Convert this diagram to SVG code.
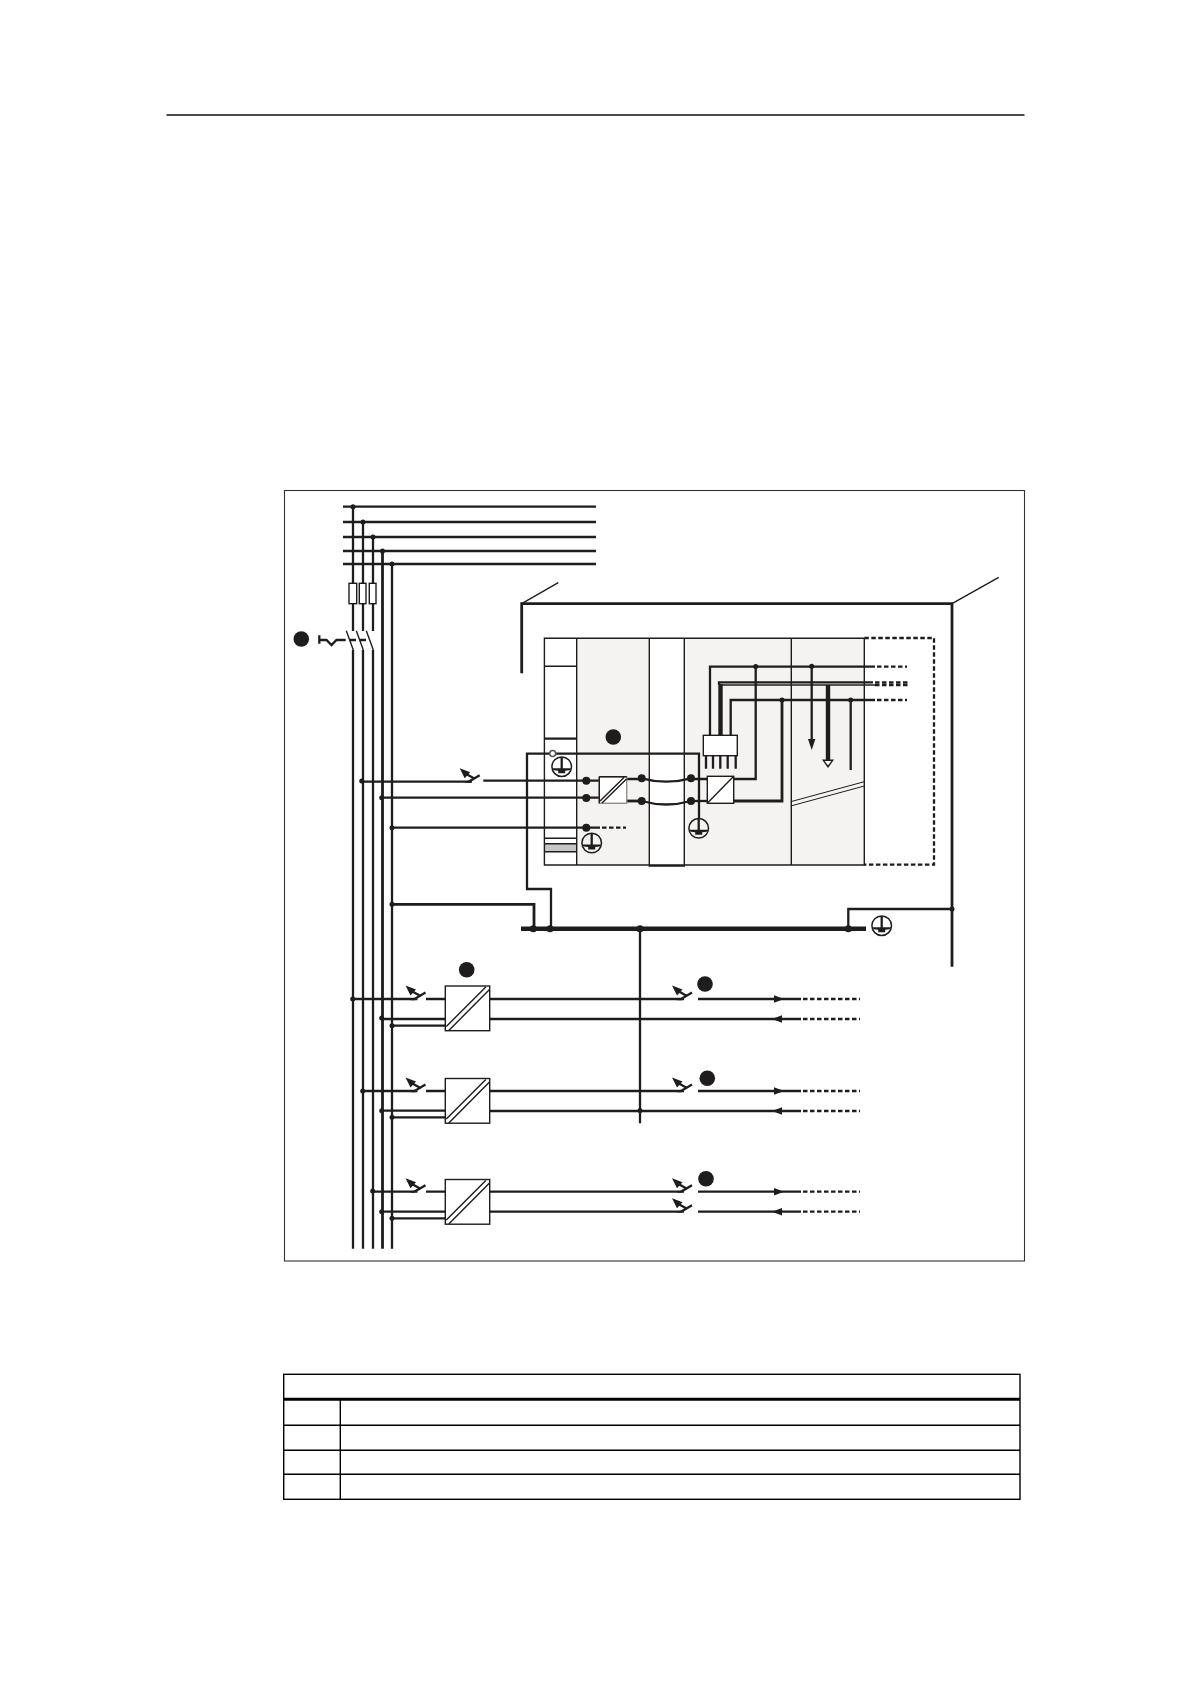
<svg xmlns="http://www.w3.org/2000/svg" width="1190" height="1684" viewBox="0 0 1190 1684">
<defs>
<style>
.l{fill:none;stroke:#1f1c1d;stroke-width:2.3}
.t{fill:none;stroke:#1f1c1d;stroke-width:1.4}
.w{fill:none;stroke:#1f1c1d;stroke-width:2.8}
.h{fill:none;stroke:#1f1c1d;stroke-width:4.4}
.d{fill:none;stroke:#1f1c1d;stroke-width:2.300;stroke-dasharray:4.500 2.500}
.j{fill:#1f1c1d}
.box{fill:#fff;stroke:#1f1c1d;stroke-width:1.4}
.ah{fill:#1f1c1d;stroke:none}
.mod{fill:#f4f3f2;stroke:none}
</style>
<g id="earth"><circle r="9.8" fill="none" stroke="#1f1c1d" stroke-width="1.5"/><path d="M0,-9.500V4" stroke="#1f1c1d" stroke-width="2.300"/><path d="M-9.500,1.500H9.500L8,3.500L3.500,4V6.500H-3.500V4L-8,3.500Z" fill="#1f1c1d"/></g>
<g id="sw"><path class="l" d="M0,0H-3L8,-6.5"/><path class="l" d="M3,-3L-6,-8"/><path class="ah" d="M-12,-13.500L-1.500,-9.500L-7,-3.500Z"/></g>
<g id="conv"><rect class="box" width="44.4" height="44.7"/><path class="t" d="M1,40.5L40.5,1M3.5,44.5L44.2,3.5"/></g>
<g id="arrR"><path class="ah" d="M0,-3.800L10,0L0,3.800Z"/></g>
<g id="arrL"><path class="ah" d="M0,-3.800L-10,0L0,3.800Z"/></g>
</defs>
<rect width="1190" height="1684" fill="#fff"/>
<path d="M166.500,115H1024.500" stroke="#111" stroke-width="1.300" fill="none"/>
<rect x="284.500" y="490.500" width="740" height="770.500" fill="none" stroke="#333" stroke-width="1.100"/>

<g id="rack">
<rect class="mod" x="576.700" y="638.300" width="72.600" height="226.700"/>
<rect class="mod" x="684.300" y="638.300" width="180" height="226.700"/>
<rect x="544.500" y="843.700" width="32" height="8" fill="#c6c6c6"/>
<path class="t" d="M864.300,638.300H544.400V865H864.300V638.300M576.700,638.300V865M649.300,638.300V866H684.300V638.300M791.300,638.300V865M544.400,666.300H576.700M544.400,838.300H576.700M544.400,843.700H576.700M544.400,851.700H576.700"/>
<path class="l" d="M544.400,738.700H576.700"/>
<path class="d" stroke-width="2.500" d="M864.300,638H934V864.700H864.300"/>
<path d="M790.700,801.700L864.300,781.700M790.700,806L864.300,786" fill="none" stroke="#1f1c1d" stroke-width="1"/>
</g>

<g id="connectors">
<path class="l" d="M343,506.700H596M343,522H596M343,537H596M343,551H596M343,564H596"/>
<path class="l" d="M353,506.700V631M363,522V631M373,537V631M353,650V1248.700M363,650V1248.700M373,650V1248.700M392,564V1248.700"/>
<path class="w" stroke-width="3.200" d="M382.500,551V1248.700"/>
<path class="t" stroke-width="1.500" d="M346.300,630.700L353.300,650M356.300,630.700L363.300,650M366.300,630.700L373.300,650"/>
<path class="l" d="M319.300,635.300V643.700M319.300,640H326.500L331.500,645L336.500,640H345.700M350,640H356M360,640H366"/>
<path class="w" d="M521.700,673.300V603.700H952V966.700"/>
<path class="t" d="M521.700,603.700L558.300,582.700M952,603.700L998.700,577.300"/>
<path class="l" d="M551,928.700V889H527V753.700H699V818"/>
<path class="l" d="M361.700,781.700H471.700M483.300,780.700H599.300"/>
<path class="l" d="M380.500,797.700H599.300"/>
<path class="l" d="M392,827.700H600"/>
<path class="d" d="M602,827.700H626"/>
<path class="l" d="M626.700,779H641.700M691,779H707.300"/>
<path class="w" d="M626.700,801H641.700"/>
<path class="l" d="M691,801H707.300"/>
<path class="l" d="M641.700,778.300Q666,785 691,778.300M641.700,801Q666,808 691,801"/>
<path class="l" d="M733.700,779H755.700V666.700"/>
<path class="w" stroke-width="3.200" d="M733.700,801H782V700"/>
<path class="l" d="M710,735V666.700H875M730.700,735V700H875M719,684.700V682.300H873"/>
<path class="h" d="M720.500,684V735"/>
<path class="t" stroke-width="1.500" d="M719,685H875"/>
<path class="d" d="M877,666.700H907M877,700H907M875,682.300H908M875,685H908"/>
<path class="l" d="M706,755.500V768.700M713,755.500V768.700M720.300,755.500V768.700M727.700,755.500V768.700M735.700,755.500V768.700"/>
<path class="l" d="M811.700,666.700V745"/>
<path class="h" d="M828,685V760"/>
<path class="ah" d="M808,739H815.400L811.700,750Z"/>
<path d="M823.300,760.300H832.700L828,766.700Z" fill="#fff" stroke="#1f1c1d" stroke-width="1.400"/>
<path class="l" d="M850.700,700V770"/>
<path class="h" d="M521,928.700H866"/>
<path class="w" d="M392,904.300H534V928.700"/>
<path class="l" d="M640,928.700V1123.300M848.300,928.700V909H952"/>

<path class="l" d="M352.700,999H415M426,999H445.300M489.700,999H681.700M698,999H801M381.700,1019H445.300M489.700,1019H801M392,1025.700H445.300"/>
<path class="l" d="M362.700,1091H415M426,1091H445.300M489.700,1091H681.700M698,1091H801M381.700,1110.700H445.300M489.700,1111H801M392,1117.300H445.300"/>
<path class="l" d="M372.700,1191.700H415M426,1191.700H445.300M489.700,1191.700H681.700M698,1191.700H801M381.700,1211.700H445.300M489.700,1211.700H681.700M698,1211.700H801M392,1218.300H445.300"/>
<path class="d" d="M803,999H860M803,1019H860M803,1091H860M803,1111H860M803,1191.700H860M803,1211.700H860"/>
<use href="#arrR" x="774" y="999"/><use href="#arrL" x="782" y="1019"/>
<use href="#arrR" x="774" y="1091"/><use href="#arrL" x="782" y="1111"/>
<use href="#arrR" x="774" y="1191.700"/><use href="#arrL" x="782" y="1211.700"/>
<use href="#sw" x="471.700" y="781.700"/>
<use href="#sw" x="417.500" y="999"/><use href="#sw" x="417.500" y="1091"/><use href="#sw" x="417.500" y="1191.700"/>
<use href="#sw" x="684" y="999"/><use href="#sw" x="684" y="1091"/><use href="#sw" x="684" y="1191.700"/><use href="#sw" x="684" y="1211.700"/>
<g class="j">
<circle cx="353" cy="506.700" r="2.500"/><circle cx="363" cy="522" r="2.500"/><circle cx="373" cy="537" r="2.500"/><circle cx="382.500" cy="551" r="2.500"/><circle cx="392" cy="564" r="2.500"/>
<circle cx="361.700" cy="781" r="2.500"/><circle cx="381.700" cy="797.700" r="2.500"/><circle cx="392" cy="827.700" r="2.500"/><circle cx="392" cy="904.300" r="2.500"/>
<circle cx="586.300" cy="780.700" r="4"/><circle cx="586.300" cy="798" r="4"/><circle cx="586.300" cy="827.700" r="4"/>
<circle cx="641.700" cy="778.300" r="4"/><circle cx="641.700" cy="801" r="4"/><circle cx="691" cy="778.300" r="4"/><circle cx="691" cy="801" r="4"/>
<circle cx="755.700" cy="666.500" r="2.500"/><circle cx="811.700" cy="666.300" r="2.500"/><circle cx="782" cy="700" r="2.500"/><circle cx="850.700" cy="700" r="2.500"/>
<circle cx="533.300" cy="928.700" r="3.500"/><circle cx="550" cy="928.700" r="3.500"/><circle cx="640" cy="928.700" r="3.500"/><circle cx="848.300" cy="928.700" r="3.500"/><circle cx="952" cy="909" r="2.500"/>
<circle cx="352.700" cy="999" r="2.500"/><circle cx="381.700" cy="1018" r="2.500"/><circle cx="392" cy="1025.700" r="2.500"/>
<circle cx="362.700" cy="1091" r="2.500"/><circle cx="381.700" cy="1110.700" r="2.500"/><circle cx="392" cy="1117.300" r="2.500"/>
<circle cx="372.700" cy="1191" r="2.500"/><circle cx="381.700" cy="1211.700" r="2.500"/><circle cx="392" cy="1218.300" r="2.500"/>
<circle cx="640" cy="1110.500" r="2.500"/>
</g>
</g>

<g id="fuses">
<rect class="box" x="349" y="583.300" width="7.700" height="20.400"/>
<rect class="box" x="359.300" y="583.300" width="6.700" height="20.400"/>
<rect class="box" x="369.300" y="583.300" width="6.700" height="20.400"/>
</g>
<g id="converter-rack-1"><rect x="599.300" y="776.700" width="27.400" height="26.600" fill="#fff" stroke="#8f8f8f" stroke-width="1.400"/><path class="t" d="M599.300,776.700H626.700M599.300,776.700V803.300M600,801L624,777.500M602,803L626.500,779"/></g>
<g id="converter-rack-2"><rect class="box" x="707.300" y="776.300" width="26.400" height="27"/><path class="t" d="M707.300,803.300L733.700,776.300"/></g>
<g id="connector-block"><rect class="box" x="703.300" y="735.300" width="34" height="20.400"/></g>
<g id="converter-a"><use href="#conv" x="445.300" y="986"/></g>
<g id="converter-b"><use href="#conv" x="445.300" y="1078.500"/></g>
<g id="converter-c"><use href="#conv" x="445.300" y="1179.500"/></g>
<g id="earths">
<use href="#earth" x="561.700" y="766.700"/><use href="#earth" x="591.700" y="843"/><use href="#earth" x="698.700" y="828.300"/><use href="#earth" x="881.700" y="925.700"/>
<circle cx="552.700" cy="753.500" r="3" fill="#fff" stroke="#555" stroke-width="1.600"/>
</g>
<g id="markers" class="j">
<circle cx="301.300" cy="639" r="7.800"/><circle cx="613.300" cy="737" r="7.800"/><circle cx="466.700" cy="969.700" r="7.800"/><circle cx="705" cy="984" r="7.800"/><circle cx="707.300" cy="1078.300" r="7.800"/><circle cx="706" cy="1178.700" r="7.800"/>
</g>
<g id="table">
<rect x="283.700" y="1374.300" width="736.300" height="125" fill="none" stroke="#000" stroke-width="1.400"/>
<path d="M283.700,1399.300H1020" stroke="#000" stroke-width="3" fill="none"/>
<path d="M283.700,1425.300H1020M283.700,1450.300H1020M283.700,1474.300H1020M340.300,1399.300V1499.300" stroke="#000" stroke-width="1.400" fill="none"/>
</g>
</svg>
